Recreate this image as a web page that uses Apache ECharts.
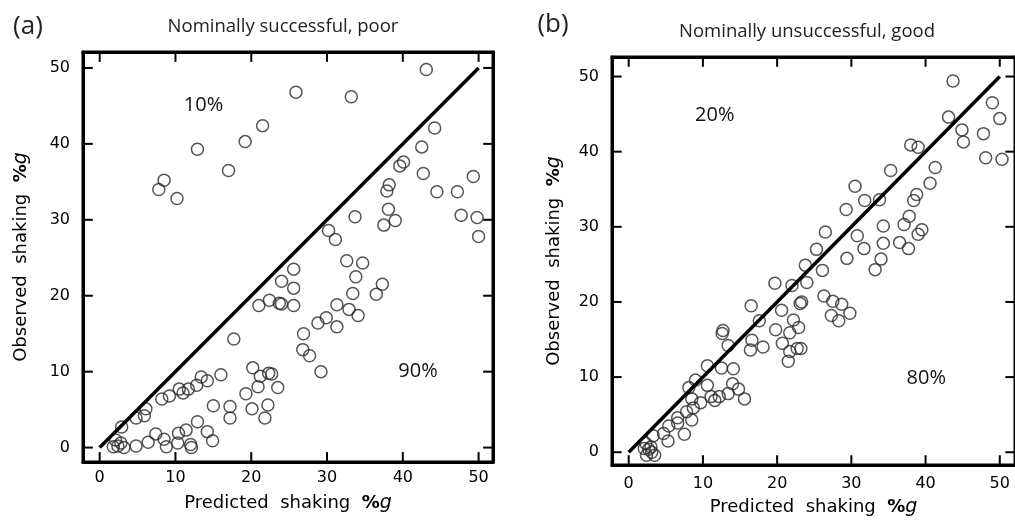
<!DOCTYPE html>
<html>
<head>
<meta charset="utf-8">
<script src="https://cdn.jsdelivr.net/npm/echarts@6/dist/echarts.min.js"></script>
<style>
html,body{margin:0;padding:0;background:#fff}
#main{width:1015px;height:522px}
</style>
</head>
<body>
<div id="main"></div>
<script>
// panel (a): nominally successful, poor
var predA = [43.1,25.9,33.2,21.5,44.2,19.2,12.9,42.5,40.1,39.6,
  17.0,42.7,49.3,8.5,7.8,38.2,37.9,44.5,47.2,10.2,
  38.1,47.7,33.7,49.8,37.5,39.0,30.2,31.1,50.0,32.6,
  34.7,25.6,33.8,24.0,37.3,25.6,36.5,33.4,22.4,23.7,
  24.0,21.0,25.6,31.3,32.9,34.1,29.9,28.8,31.3,26.9,
  17.7,26.8,27.7,29.2,20.2,21.2,22.3,22.7,13.4,16.0,
  14.2,12.8,20.9,23.5,10.5,11.7,11.0,9.2,8.2,19.3,
  15.0,17.2,20.1,22.2,6.1,5.9,4.8,17.2,21.8,12.9,
  2.9,11.4,14.2,10.4,7.4,8.5,14.9,6.4,4.8,10.3,
  8.8,12.0,12.1,2.1,2.4,2.8,3.2,1.8];
var obsA = [49.8,46.8,46.2,42.4,42.1,40.3,39.3,39.6,37.6,37.1,
  36.5,36.1,35.7,35.2,34.0,34.6,33.8,33.7,33.7,32.8,
  31.4,30.6,30.4,30.3,29.3,29.9,28.6,27.4,27.8,24.6,
  24.3,23.5,22.5,21.9,21.5,21.0,20.2,20.3,19.4,19.0,
  18.9,18.7,18.7,18.8,18.2,17.4,17.1,16.4,15.9,15.0,
  14.3,12.9,12.1,10.0,10.5,9.4,9.8,9.7,9.3,9.6,
  8.8,8.2,8.0,7.9,7.7,7.7,7.2,6.8,6.4,7.1,
  5.5,5.4,5.1,5.6,5.1,4.2,3.9,3.9,3.9,3.4,
  2.7,2.3,2.1,1.9,1.8,1.1,0.9,0.7,0.2,0.6,
  0.1,0.4,0.0,1.0,0.2,0.6,0.0,0.1];

// panel (b): nominally unsuccessful, good
var predB = [43.7,49.0,50.0,43.1,44.9,45.1,47.8,48.1,50.3,38.0,
  39.0,41.3,35.3,40.6,30.5,38.8,38.4,31.8,33.8,29.3,
  37.8,34.3,37.1,39.5,39.0,26.5,30.8,34.3,36.5,37.7,
  31.7,25.3,29.4,34.0,33.2,26.1,23.8,24.0,22.0,19.7,
  26.3,27.5,28.7,29.8,27.3,28.3,23.3,23.1,16.5,20.6,
  17.6,22.2,22.9,19.8,12.7,12.6,21.7,16.6,13.4,18.1,
  20.7,16.4,21.7,22.7,23.2,21.5,10.6,12.5,14.1,9.0,
  8.1,10.6,14.0,14.8,8.5,11.1,11.6,12.2,13.4,15.6,
  8.7,9.7,7.8,6.6,6.6,8.5,5.4,4.7,5.3,7.5,
  3.3,2.3,2.1,2.7,3.1,3.5,2.4,3.0];
var obsB = [49.4,46.5,44.4,44.6,42.9,41.3,42.4,39.2,39.0,40.9,
  40.6,37.9,37.5,35.8,35.4,34.3,33.5,33.5,33.6,32.3,
  31.4,30.1,30.3,29.6,29.0,29.3,28.8,27.8,27.9,27.1,
  27.1,27.0,25.8,25.7,24.3,24.2,24.9,22.6,22.2,22.5,
  20.8,20.1,19.7,18.5,18.2,17.5,20.0,19.8,19.5,18.9,
  17.5,17.6,16.6,16.3,16.2,15.8,15.9,14.9,14.2,14.0,
  14.5,13.6,13.4,13.8,13.8,12.1,11.5,11.2,11.1,9.6,
  8.6,8.9,9.1,8.4,7.1,7.4,6.9,7.4,7.8,7.1,
  5.9,6.6,5.4,4.6,3.9,4.3,3.5,2.5,1.5,2.4,
  2.2,1.2,0.5,0.4,0.0,-0.4,-0.4,0.7];

// 1:1 line and tick values
var diagX = [0, 50];
var diagY = [0, 50];
var tickVals = [0, 10, 20, 30, 40, 50];

// axis extents (frame edges)
var xExtA = [-2.2, 51.9];
var yExtA = [-1.9, 52.1];
var xExtB = [-2.25, 52.05];
var yExtB = [-1.7, 52.6];

// percentage notes
var noteTextA = ['10%', '90%'];
var noteXA = [13.7, 42.0];
var noteYA = [45.1, 10.0];
var noteTextB = ['20%', '80%'];
var noteXB = [11.6, 40.1];
var noteYB = [44.8, 9.9];

var numFont = 'DejaVu Sans';
var txtFont = 'Open Sans';
var tickLen = 1.3; // tick length in axis units (about 10px)

function zip(xs, ys) {
  return xs.map(function (x, i) { return [x, ys[i]]; });
}
function notes(txt, xs, ys) {
  return txt.map(function (t, i) { return { name: t, value: [xs[i], ys[i]] }; });
}

var axisName = {
  fontFamily: numFont, fontSize: 18, color: '#000',
  rich: {
    t: { fontFamily: numFont, fontSize: 18, color: '#000' },
    p: { fontFamily: numFont, fontSize: 18, fontWeight: 'bold', color: '#000' },
    g: { fontFamily: numFont, fontSize: 19, fontStyle: 'italic', color: '#000' }
  }
};

function mainAxis(grid, pos, ext, name, gap, lblMargin) {
  return {
    type: 'value', gridIndex: grid, position: pos, min: ext[0], max: ext[1],
    axisLine: { show: true, onZero: false, lineStyle: { color: '#000', width: 3 } },
    axisTick: { show: false },
    axisLabel: { customValues: tickVals, margin: lblMargin, fontFamily: numFont, fontSize: 16, color: '#000' },
    splitLine: { show: false },
    name: name, nameLocation: 'middle', nameGap: gap, nameTextStyle: axisName
  };
}
function mirrorAxis(grid, pos, ext) {
  return {
    type: 'value', gridIndex: grid, position: pos, min: ext[0], max: ext[1],
    axisLine: { show: true, onZero: false, lineStyle: { color: '#000', width: 3 } },
    axisTick: { show: false },
    axisLabel: { show: false },
    splitLine: { show: false }
  };
}

var xName = '{t|Predicted  shaking  }{p|%}{g|g}';
var yName = '{t|Observed  shaking  }{p|%}{g|g}';

function scatter(xi, yi, data) {
  return {
    type: 'scatter', xAxisIndex: xi, yAxisIndex: yi, data: data,
    symbol: 'circle', symbolSize: 12,
    itemStyle: { color: 'rgba(0,0,0,0)', borderColor: '#2a2a2a', borderWidth: 1.5 },
    silent: true, z: 3
  };
}
function diag(xi, yi) {
  return {
    type: 'line', xAxisIndex: xi, yAxisIndex: yi, data: zip(diagX, diagY),
    showSymbol: false, lineStyle: { color: '#000', width: 3.5 }, silent: true, z: 4
  };
}
function noteSeries(xi, yi, data) {
  return {
    type: 'scatter', xAxisIndex: xi, yAxisIndex: yi, data: data,
    symbolSize: 1, itemStyle: { color: 'rgba(0,0,0,0)' }, silent: true,
    label: { show: true, position: 'inside', formatter: '{b}', fontFamily: txtFont, fontSize: 20, color: '#111', opacity: 1 }
  };
}
// inward tick marks on the four frame sides, each a short two-point line on the axis scales
function tickLines(xi, yi, xExt, yExt) {
  var out = [];
  tickVals.forEach(function (v) {
    var segs = [
      [[v, yExt[0]], [v, yExt[0] + tickLen]],
      [[v, yExt[1]], [v, yExt[1] - tickLen]],
      [[xExt[0], v], [xExt[0] + tickLen, v]],
      [[xExt[1], v], [xExt[1] - tickLen, v]]
    ];
    segs.forEach(function (seg) {
      out.push({
        type: 'line', xAxisIndex: xi, yAxisIndex: yi, data: seg,
        showSymbol: false, symbol: 'none', clip: false,
        lineStyle: { color: '#000', width: 2 }, silent: true, z: 5
      });
    });
  });
  return out;
}

var series = [
  scatter(0, 0, zip(predA, obsA)),
  diag(0, 0),
  noteSeries(0, 0, notes(noteTextA, noteXA, noteYA)),
  scatter(2, 2, zip(predB, obsB)),
  diag(2, 2),
  noteSeries(2, 2, notes(noteTextB, noteXB, noteYB))
].concat(tickLines(0, 0, xExtA, yExtA), tickLines(2, 2, xExtB, yExtB));

var chart = echarts.init(document.getElementById('main'));
chart.setOption({
  animation: false,
  backgroundColor: '#fff',
  graphic: [
    { type: 'text', x: 28, y: 27, style: { text: '(a)', font: '26px "Open Sans"', fill: '#222', align: 'center', verticalAlign: 'middle' } },
    { type: 'text', x: 283, y: 27, style: { text: 'Nominally successful, poor', font: '18.5px "Open Sans"', fill: '#222', align: 'center', verticalAlign: 'middle' } },
    { type: 'text', x: 553, y: 25, style: { text: '(b)', font: '26px "Open Sans"', fill: '#222', align: 'center', verticalAlign: 'middle' } },
    { type: 'text', x: 807, y: 32, style: { text: 'Nominally unsuccessful, good', font: '18.5px "Open Sans"', fill: '#222', align: 'center', verticalAlign: 'middle' } }
  ],
  grid: [
    { left: 83, top: 52, width: 410, height: 410, show: true, borderColor: '#000', borderWidth: 3, backgroundColor: 'transparent' },
    { left: 612, top: 57, width: 410, height: 413, show: true, borderColor: '#000', borderWidth: 3, backgroundColor: 'transparent' }
  ],
  xAxis: [
    mainAxis(0, 'bottom', xExtA, xName, 32, 8),
    mirrorAxis(0, 'top', xExtA),
    mainAxis(1, 'bottom', xExtB, xName, 33, 11),
    mirrorAxis(1, 'top', xExtB)
  ],
  yAxis: [
    mainAxis(0, 'left', yExtA, yName, 52, 13),
    mirrorAxis(0, 'right', yExtA),
    mainAxis(1, 'left', yExtB, yName, 48, 13),
    mirrorAxis(1, 'right', yExtB)
  ],
  series: series
});
</script>
</body>
</html>
